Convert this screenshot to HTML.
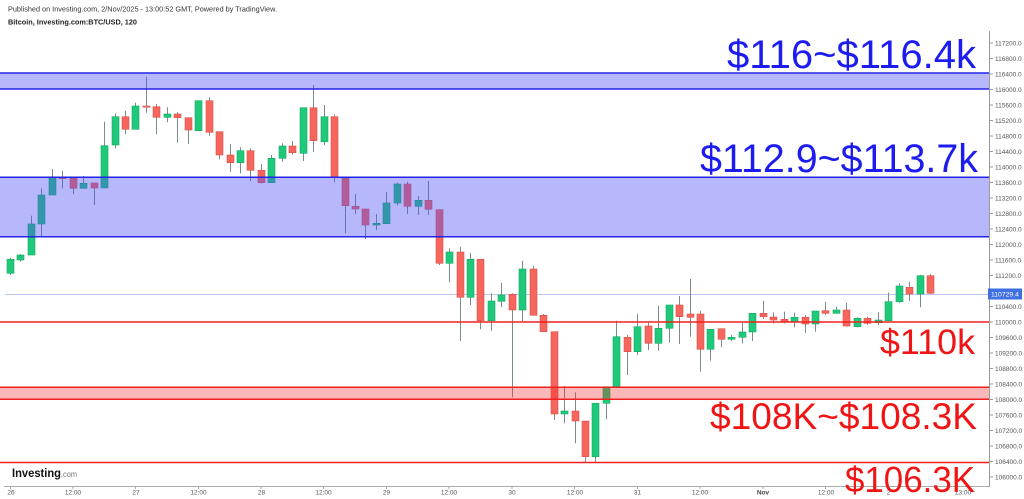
<!DOCTYPE html>
<html><head><meta charset="utf-8"><style>
html,body{margin:0;padding:0;background:#fff;}
svg{display:block;}
.w{fill:#7a8c8c}
.g{fill:#1fc97a;stroke:#15a865;stroke-width:.6}
.r{fill:#f6665c;stroke:#d9534b;stroke-width:.6}
.ax{font-family:"Liberation Sans",sans-serif;font-size:6.5px;fill:#555}
</style></head><body>
<svg width="1024" height="499" viewBox="0 0 1024 499" xmlns="http://www.w3.org/2000/svg">
<rect width="1024" height="499" fill="#fff"/>
<text x="8" y="11.5" font-family="Liberation Sans, sans-serif" font-size="7.6" fill="#333" textLength="269" lengthAdjust="spacingAndGlyphs">Published on Investing.com, 2/Nov/2025 - 13:00:52 GMT, Powered by TradingView.</text>
<text x="8" y="24.7" font-family="Liberation Sans, sans-serif" font-size="7.6" font-weight="bold" fill="#222" textLength="129" lengthAdjust="spacingAndGlyphs">Bitcoin, Investing.com:BTC/USD, 120</text>

<!-- price line -->
<line x1="5" y1="294.5" x2="989" y2="294.5" stroke="#bcc6ee" stroke-width="1"/>

<!-- candles -->
<g>
<rect class="w" x="10" y="257.7" width="1" height="17.3"/><rect class="g" x="7" y="259.3" width="7" height="14"/>
<rect class="w" x="20" y="254" width="1" height="7.7"/><rect class="g" x="17" y="255" width="7" height="5"/>
<rect class="w" x="31" y="215.7" width="1" height="39.3"/><rect class="g" x="28" y="224" width="7" height="31"/>
<rect class="w" x="41" y="188.3" width="1" height="47.7"/><rect class="g" x="38" y="195" width="7" height="29"/>
<rect class="w" x="52" y="169" width="1" height="26"/><rect class="g" x="49" y="177.3" width="7" height="17.7"/>
<rect class="w" x="62" y="170.7" width="1" height="17.6"/><rect class="r" x="59" y="177.3" width="7" height="1.4"/>
<rect class="w" x="73" y="178" width="1" height="16"/><rect class="r" x="70" y="178.3" width="7" height="10"/>
<rect class="w" x="83" y="176" width="1" height="12.3"/><rect class="g" x="80" y="183.3" width="7" height="5"/>
<rect class="w" x="94" y="183" width="1" height="22"/><rect class="r" x="91" y="183" width="7" height="5"/>
<rect class="w" x="104" y="121.7" width="1" height="66.3"/><rect class="g" x="101" y="145.7" width="7" height="42.3"/>
<rect class="w" x="115" y="113.3" width="1" height="35"/><rect class="g" x="112" y="116.7" width="7" height="28.3"/>
<rect class="w" x="125" y="110.7" width="1" height="23.6"/><rect class="r" x="122" y="116.7" width="7" height="12.6"/>
<rect class="w" x="135" y="102.7" width="1" height="26.6"/><rect class="g" x="132" y="106" width="7" height="23.3"/>
<rect class="w" x="146" y="76.7" width="1" height="36"/><rect class="r" x="143" y="106" width="7" height="1.2"/>
<rect class="w" x="156" y="104" width="1" height="30.3"/><rect class="r" x="153" y="106.7" width="7" height="10.6"/>
<rect class="w" x="167" y="107.3" width="1" height="15"/><rect class="g" x="164" y="114" width="7" height="3.3"/>
<rect class="w" x="177" y="112.3" width="1" height="30.4"/><rect class="r" x="174" y="114" width="7" height="3.7"/>
<rect class="w" x="188" y="117.7" width="1" height="26.3"/><rect class="r" x="185" y="117.7" width="7" height="12.3"/>
<rect class="w" x="198" y="100.7" width="1" height="30.3"/><rect class="g" x="195" y="100.7" width="7" height="30"/>
<rect class="w" x="209" y="97.3" width="1" height="38.4"/><rect class="r" x="206" y="100.7" width="7" height="31.6"/>
<rect class="w" x="219" y="131.7" width="1" height="27.6"/><rect class="r" x="216" y="131.7" width="7" height="23.3"/>
<rect class="w" x="230" y="144" width="1" height="27.7"/><rect class="r" x="227" y="155" width="7" height="7.7"/>
<rect class="w" x="240" y="147.3" width="1" height="26"/><rect class="g" x="237" y="150.7" width="7" height="12"/>
<rect class="w" x="250" y="148.3" width="1" height="32.7"/><rect class="r" x="247" y="150.7" width="7" height="19.6"/>
<rect class="w" x="261" y="164" width="1" height="19.3"/><rect class="r" x="258" y="170.3" width="7" height="12.4"/>
<rect class="w" x="271" y="155" width="1" height="27.7"/><rect class="g" x="268" y="158.3" width="7" height="24.4"/>
<rect class="w" x="282" y="143.3" width="1" height="18.4"/><rect class="g" x="279" y="146" width="7" height="12.3"/>
<rect class="w" x="292" y="141" width="1" height="13.3"/><rect class="r" x="289" y="146" width="7" height="6.7"/>
<rect class="w" x="303" y="107.7" width="1" height="53.3"/><rect class="g" x="300" y="107.7" width="7" height="45.6"/>
<rect class="w" x="313" y="85" width="1" height="66.7"/><rect class="r" x="310" y="107.7" width="7" height="33"/>
<rect class="w" x="324" y="105" width="1" height="40"/><rect class="g" x="321" y="116.7" width="7" height="25"/>
<rect class="w" x="334" y="114.3" width="1" height="68"/><rect class="r" x="331" y="116.7" width="7" height="60.6"/>
<rect class="w" x="345" y="178.3" width="1" height="55"/><rect class="r" x="342" y="178.3" width="7" height="27.4"/>
<rect class="w" x="355" y="194" width="1" height="20"/><rect class="r" x="352" y="206.3" width="7" height="2.7"/>
<rect class="w" x="365" y="209" width="1" height="30"/><rect class="r" x="362" y="209" width="7" height="16"/>
<rect class="w" x="376" y="214" width="1" height="16"/><rect class="g" x="373" y="223.3" width="7" height="1.7"/>
<rect class="w" x="386" y="192" width="1" height="31.7"/><rect class="g" x="383" y="203" width="7" height="20.7"/>
<rect class="w" x="397" y="182.7" width="1" height="23"/><rect class="g" x="394" y="184" width="7" height="19"/>
<rect class="w" x="407" y="181.7" width="1" height="32.3"/><rect class="r" x="404" y="184" width="7" height="22.3"/>
<rect class="w" x="418" y="196" width="1" height="19"/><rect class="g" x="415" y="200.3" width="7" height="6"/>
<rect class="w" x="428" y="181" width="1" height="34"/><rect class="r" x="425" y="200.3" width="7" height="9"/>
<rect class="w" x="439" y="209.7" width="1" height="55.3"/><rect class="r" x="436" y="209.7" width="7" height="53.6"/>
<rect class="w" x="449" y="248.3" width="1" height="34"/><rect class="g" x="446" y="252" width="7" height="11.3"/>
<rect class="w" x="460" y="246.7" width="1" height="94.3"/><rect class="r" x="457" y="252" width="7" height="45.3"/>
<rect class="w" x="470" y="252.7" width="1" height="52.3"/><rect class="g" x="467" y="259.3" width="7" height="38"/>
<rect class="w" x="480" y="259.3" width="1" height="70"/><rect class="r" x="477" y="259.3" width="7" height="61.4"/>
<rect class="w" x="491" y="293.3" width="1" height="37.4"/><rect class="g" x="488" y="301" width="7" height="19.7"/>
<rect class="w" x="501" y="282.7" width="1" height="24.6"/><rect class="g" x="498" y="295" width="7" height="6.3"/>
<rect class="w" x="512" y="293.3" width="1" height="104"/><rect class="r" x="509" y="294.3" width="7" height="15.7"/>
<rect class="w" x="522" y="260.7" width="1" height="60.3"/><rect class="g" x="519" y="269" width="7" height="41"/>
<rect class="w" x="533" y="266" width="1" height="49.3"/><rect class="r" x="530" y="269" width="7" height="46.3"/>
<rect class="w" x="543" y="314" width="1" height="17.7"/><rect class="r" x="540" y="315.3" width="7" height="16.4"/>
<rect class="w" x="554" y="331.7" width="1" height="88.3"/><rect class="r" x="551" y="331.7" width="7" height="82.3"/>
<rect class="w" x="564" y="386" width="1" height="37.3"/><rect class="g" x="561" y="411" width="7" height="3"/>
<rect class="w" x="575" y="392.3" width="1" height="51"/><rect class="r" x="572" y="411" width="7" height="10"/>
<rect class="w" x="585" y="421" width="1" height="40.7"/><rect class="r" x="582" y="421" width="7" height="35.7"/>
<rect class="w" x="595" y="403.3" width="1" height="58.4"/><rect class="g" x="592" y="403.3" width="7" height="53.4"/>
<rect class="w" x="606" y="386.7" width="1" height="32.6"/><rect class="g" x="603" y="386.7" width="7" height="16.6"/>
<rect class="w" x="616" y="320.7" width="1" height="66"/><rect class="g" x="613" y="336.7" width="7" height="50"/>
<rect class="w" x="627" y="335" width="1" height="40"/><rect class="r" x="624" y="337.3" width="7" height="14.4"/>
<rect class="w" x="637" y="314" width="1" height="41"/><rect class="g" x="634" y="326.7" width="7" height="25"/>
<rect class="w" x="648" y="322.7" width="1" height="27.3"/><rect class="r" x="645" y="326" width="7" height="17.3"/>
<rect class="w" x="658" y="305.7" width="1" height="45"/><rect class="g" x="655" y="328.3" width="7" height="15"/>
<rect class="w" x="669" y="305" width="1" height="37.7"/><rect class="g" x="666" y="305" width="7" height="23.3"/>
<rect class="w" x="679" y="296" width="1" height="48"/><rect class="r" x="676" y="305" width="7" height="11.7"/>
<rect class="w" x="690" y="279" width="1" height="57.7"/><rect class="r" x="687" y="314" width="7" height="3.3"/>
<rect class="w" x="700" y="310.7" width="1" height="61"/><rect class="r" x="697" y="314" width="7" height="35.3"/>
<rect class="w" x="710" y="329.3" width="1" height="31.4"/><rect class="g" x="707" y="329.3" width="7" height="20"/>
<rect class="w" x="721" y="328.7" width="1" height="18.6"/><rect class="r" x="718" y="328.7" width="7" height="10.6"/>
<rect class="w" x="731" y="335" width="1" height="6"/><rect class="g" x="728" y="337.3" width="7" height="2"/>
<rect class="w" x="742" y="323.3" width="1" height="20"/><rect class="g" x="739" y="332" width="7" height="5.3"/>
<rect class="w" x="752" y="313.3" width="1" height="27.7"/><rect class="g" x="749" y="313.3" width="7" height="18.7"/>
<rect class="w" x="763" y="300.7" width="1" height="18.3"/><rect class="r" x="760" y="313.3" width="7" height="3.4"/>
<rect class="w" x="773" y="312.3" width="1" height="11"/><rect class="r" x="770" y="317" width="7" height="3"/>
<rect class="w" x="784" y="311.7" width="1" height="11.6"/><rect class="r" x="781" y="319.3" width="7" height="2.7"/>
<rect class="w" x="794" y="312.7" width="1" height="14.6"/><rect class="g" x="791" y="317.3" width="7" height="4.7"/>
<rect class="w" x="805" y="315" width="1" height="17.7"/><rect class="r" x="802" y="317.3" width="7" height="6.7"/>
<rect class="w" x="815" y="311" width="1" height="20.7"/><rect class="g" x="812" y="311" width="7" height="13"/>
<rect class="w" x="825" y="301.7" width="1" height="13.3"/><rect class="r" x="822" y="310.7" width="7" height="2.6"/>
<rect class="w" x="836" y="306.7" width="1" height="6.6"/><rect class="g" x="833" y="310" width="7" height="3.3"/>
<rect class="w" x="846" y="302.7" width="1" height="24"/><rect class="r" x="843" y="310" width="7" height="16"/>
<rect class="w" x="857" y="317.3" width="1" height="10"/><rect class="g" x="854" y="318.3" width="7" height="8.4"/>
<rect class="w" x="867" y="316.7" width="1" height="8.3"/><rect class="r" x="864" y="318.3" width="7" height="5"/>
<rect class="w" x="878" y="312.3" width="1" height="12.7"/><rect class="g" x="875" y="320" width="7" height="2.7"/>
<rect class="w" x="888" y="292.7" width="1" height="28"/><rect class="g" x="885" y="301.7" width="7" height="19"/>
<rect class="w" x="899" y="283.3" width="1" height="19.4"/><rect class="g" x="896" y="286" width="7" height="15.7"/>
<rect class="w" x="909" y="281.7" width="1" height="19"/><rect class="r" x="906" y="287.3" width="7" height="6.7"/>
<rect class="w" x="920" y="275" width="1" height="32.3"/><rect class="g" x="917" y="275.7" width="7" height="18.3"/>
<rect class="w" x="930" y="274.3" width="1" height="19.7"/><rect class="r" x="927" y="275.7" width="7" height="17.6"/>
</g>

<!-- zones -->
<rect x="0" y="73" width="989" height="16" fill="rgba(80,80,245,0.41)"/>
<line x1="0" y1="73" x2="989" y2="73" stroke="#2424e8" stroke-width="1.5"/>
<line x1="0" y1="89" x2="989" y2="89" stroke="#2424e8" stroke-width="1.5"/>
<rect x="0" y="177.3" width="989" height="59.4" fill="rgba(80,80,245,0.41)"/>
<line x1="0" y1="177.3" x2="989" y2="177.3" stroke="#2424e8" stroke-width="1.5"/>
<line x1="0" y1="236.7" x2="989" y2="236.7" stroke="#2424e8" stroke-width="1.5"/>
<rect x="0" y="387.3" width="989" height="12" fill="rgba(240,40,40,0.33)"/>
<line x1="0" y1="387.3" x2="989" y2="387.3" stroke="#f02020" stroke-width="1.5"/>
<line x1="0" y1="399.3" x2="989" y2="399.3" stroke="#f02020" stroke-width="1.5"/>
<line x1="0" y1="322" x2="989" y2="322" stroke="#f02020" stroke-width="1.5"/>
<line x1="0" y1="462.5" x2="989" y2="462.5" stroke="#f02020" stroke-width="1.5"/>

<!-- right axis -->
<line x1="989.5" y1="31" x2="989.5" y2="487" stroke="#999" stroke-width="1"/>
<g stroke="#999" stroke-width="1">
<line x1="990" y1="43" x2="993" y2="43"/><line x1="990" y1="58.5" x2="993" y2="58.5"/><line x1="990" y1="74" x2="993" y2="74"/><line x1="990" y1="89.5" x2="993" y2="89.5"/><line x1="990" y1="105" x2="993" y2="105"/><line x1="990" y1="120.5" x2="993" y2="120.5"/><line x1="990" y1="136" x2="993" y2="136"/><line x1="990" y1="151.5" x2="993" y2="151.5"/><line x1="990" y1="167" x2="993" y2="167"/><line x1="990" y1="182.5" x2="993" y2="182.5"/><line x1="990" y1="198" x2="993" y2="198"/><line x1="990" y1="213.5" x2="993" y2="213.5"/><line x1="990" y1="229" x2="993" y2="229"/><line x1="990" y1="244.5" x2="993" y2="244.5"/><line x1="990" y1="260" x2="993" y2="260"/><line x1="990" y1="275.5" x2="993" y2="275.5"/><line x1="990" y1="306.5" x2="993" y2="306.5"/><line x1="990" y1="322" x2="993" y2="322"/><line x1="990" y1="337.5" x2="993" y2="337.5"/><line x1="990" y1="353" x2="993" y2="353"/><line x1="990" y1="368.5" x2="993" y2="368.5"/><line x1="990" y1="384" x2="993" y2="384"/><line x1="990" y1="399.5" x2="993" y2="399.5"/><line x1="990" y1="415" x2="993" y2="415"/><line x1="990" y1="430.5" x2="993" y2="430.5"/><line x1="990" y1="446" x2="993" y2="446"/><line x1="990" y1="461.5" x2="993" y2="461.5"/><line x1="990" y1="477" x2="993" y2="477"/>
</g>
<g class="ax">
<text x="995" y="45.3">117200.0</text><text x="995" y="60.8">116800.0</text><text x="995" y="76.3">116400.0</text><text x="995" y="91.8">116000.0</text><text x="995" y="107.3">115600.0</text><text x="995" y="122.8">115200.0</text><text x="995" y="138.3">114800.0</text><text x="995" y="153.8">114400.0</text><text x="995" y="169.3">114000.0</text><text x="995" y="184.8">113600.0</text><text x="995" y="200.3">113200.0</text><text x="995" y="215.8">112800.0</text><text x="995" y="231.3">112400.0</text><text x="995" y="246.8">112000.0</text><text x="995" y="262.3">111600.0</text><text x="995" y="277.8">111200.0</text><text x="995" y="308.8">110400.0</text><text x="995" y="324.3">110000.0</text><text x="995" y="339.8">109600.0</text><text x="995" y="355.3">109200.0</text><text x="995" y="370.8">108800.0</text><text x="995" y="386.3">108400.0</text><text x="995" y="401.8">108000.0</text><text x="995" y="417.3">107600.0</text><text x="995" y="432.8">107200.0</text><text x="995" y="448.3">106800.0</text><text x="995" y="463.8">106400.0</text><text x="995" y="479.3">106000.0</text>
</g>
<rect x="988" y="288.5" width="34" height="11" fill="#3f6fe0"/>
<text x="991" y="296.5" font-family="Liberation Sans, sans-serif" font-size="6.8" fill="#fff">110729.4</text>

<!-- bottom axis -->
<line x1="4" y1="486.5" x2="989" y2="486.5" stroke="#aaa" stroke-width="1"/>
<g stroke="#aaa" stroke-width="1">
<line x1="10.5" y1="487" x2="10.5" y2="489"/><line x1="73" y1="487" x2="73" y2="489"/><line x1="135.5" y1="487" x2="135.5" y2="489"/><line x1="198.5" y1="487" x2="198.5" y2="489"/><line x1="261" y1="487" x2="261" y2="489"/><line x1="323.5" y1="487" x2="323.5" y2="489"/><line x1="386.5" y1="487" x2="386.5" y2="489"/><line x1="449" y1="487" x2="449" y2="489"/><line x1="512" y1="487" x2="512" y2="489"/><line x1="574.5" y1="487" x2="574.5" y2="489"/><line x1="637.5" y1="487" x2="637.5" y2="489"/><line x1="700" y1="487" x2="700" y2="489"/><line x1="763" y1="487" x2="763" y2="489"/><line x1="825.5" y1="487" x2="825.5" y2="489"/><line x1="888.5" y1="487" x2="888.5" y2="489"/>
</g>
<g class="ax" text-anchor="middle">
<text x="11" y="494.5">26</text><text x="73" y="494.5">12:00</text><text x="136" y="494.5">27</text><text x="198.5" y="494.5">12:00</text><text x="261.5" y="494.5">28</text><text x="323.5" y="494.5">12:00</text><text x="386.5" y="494.5">29</text><text x="449" y="494.5">12:00</text><text x="512" y="494.5">30</text><text x="575" y="494.5">12:00</text><text x="637.5" y="494.5">31</text><text x="700" y="494.5">12:00</text><text x="763" y="494.5" font-weight="bold" fill="#444">Nov</text><text x="826" y="494.5">12:00</text><text x="888.5" y="494.5">2</text><text x="963" y="494.5">13:00</text>
</g>

<!-- logo -->
<text x="12" y="477" font-family="Liberation Sans, sans-serif" font-size="11.5" font-weight="bold" fill="#111" textLength="49" lengthAdjust="spacingAndGlyphs">Investing</text>
<text x="61" y="477" font-family="Liberation Sans, sans-serif" font-size="8.5" fill="#777" textLength="16" lengthAdjust="spacingAndGlyphs">.com</text>

<!-- annotations -->
<g font-family="Liberation Sans, sans-serif">
<text x="727" y="68" font-size="40" fill="#1c1cf0" textLength="249" lengthAdjust="spacingAndGlyphs">$116~$116.4k</text>
<text x="700" y="172" font-size="40" fill="#1c1cf0" textLength="278" lengthAdjust="spacingAndGlyphs">$112.9~$113.7k</text>
<text x="880" y="354" font-size="35" fill="#f01414" textLength="95" lengthAdjust="spacingAndGlyphs">$110k</text>
<text x="710" y="429" font-size="37" fill="#f01414" textLength="267" lengthAdjust="spacingAndGlyphs">$108K~$108.3K</text>
<text x="845" y="492" font-size="36" fill="#f01414" textLength="130" lengthAdjust="spacingAndGlyphs">$106.3K</text>
</g>
</svg>
</body></html>
